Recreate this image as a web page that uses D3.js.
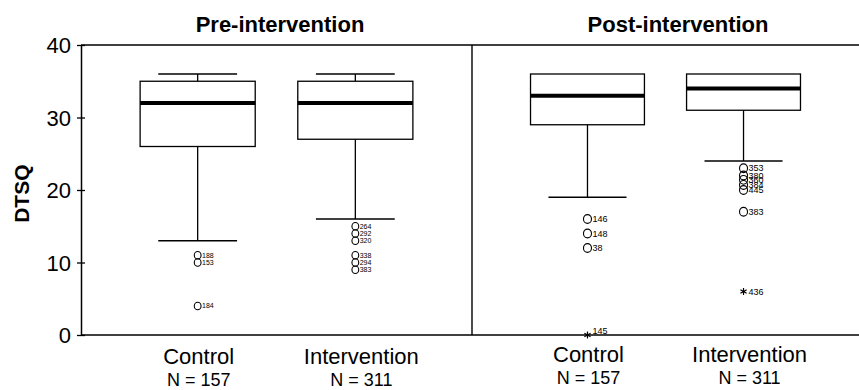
<!DOCTYPE html>
<html>
<head>
  <meta charset="UTF-8">
  <title>DTSQ box plots</title>
  <script src="https://d3js.org/d3.v7.min.js"></script>
  <style>
    body { margin: 0; background: #fff; }
    svg { display: block; font-family: "Liberation Sans", Arial, Helvetica, sans-serif; }
  </style>
</head>
<body>
<svg id="chart" width="859" height="390"></svg>
<script>
  // Chart values
  var panels = ["Pre-intervention", "Post-intervention"];
  var groups = ["Control", "Intervention"];
  var groupN = [157, 311];
  var yTicks = [0, 10, 20, 30, 40];

  // [lower whisker, Q1, median, Q3, upper whisker]
  var preControl = [13, 26, 32, 35, 36];
  var preIntervention = [16, 27, 32, 35, 36];
  var postControl = [19, 29, 33, 36, 36];
  var postIntervention = [24, 31, 34, 36, 36];

  // outliers (circles) as [value, case label]
  var preControlOut = [[11, "188"], [10, "153"], [4, "184"]];
  var preInterventionOut = [[15, "264"], [14, "292"], [13, "320"], [11, "338"], [10, "294"], [9, "383"]];
  var postControlOut = [[16, "146"], [14, "148"], [12, "38"]];
  var postInterventionOut = [[23, "353"], [22, "380"], [21.4, "360"], [20.7, "384"], [20, "445"], [17, "383"]];

  // extremes (stars)
  var preControlExt = [];
  var preInterventionExt = [];
  var postControlExt = [[0, "145"]];
  var postInterventionExt = [[6, "436"]];

  var boxes = [[preControl, preIntervention], [postControl, postIntervention]];
  var outs = [[preControlOut, preInterventionOut], [postControlOut, postInterventionOut]];
  var exts = [[preControlExt, preInterventionExt], [postControlExt, postInterventionExt]];

  // plot area edges
  var plotLeft = 81, plotRight = 859, plotTop = 45, plotBottom = 335;
  var divider = 472;
  var panelEdges = [[plotLeft, divider], [divider, plotRight]];

  var svg = d3.select("#chart");

  var y = d3.scaleLinear().domain([0, 40]).range([plotBottom, plotTop]);

  // y axis
  var yAxis = svg.append("g")
    .attr("transform", "translate(" + plotLeft + ",0)")
    .call(d3.axisLeft(y).tickValues(yTicks).tickSize(4).tickSizeOuter(0).tickPadding(6));
  yAxis.select(".domain").attr("stroke", "#000").attr("stroke-width", 1.5);
  yAxis.selectAll(".tick line").attr("x2", -4).attr("x1", 4).attr("stroke-width", 1.3);
  yAxis.selectAll(".tick text")
    .attr("font-size", 22)
    .attr("font-family", "Liberation Sans, Arial, sans-serif")
    .attr("fill", "#000")
    .attr("dy", "0.36em");

  svg.append("text")
    .attr("transform", "translate(29," + y(19.5) + ") rotate(-90)")
    .attr("text-anchor", "middle")
    .attr("font-size", 21)
    .attr("font-weight", "bold")
    .text("DTSQ");

  // frame
  svg.append("line").attr("x1", plotLeft).attr("x2", plotRight).attr("y1", plotTop).attr("y2", plotTop)
    .attr("stroke", "#000").attr("stroke-width", 1.4);
  svg.append("line").attr("x1", plotLeft).attr("x2", plotRight).attr("y1", plotBottom).attr("y2", plotBottom)
    .attr("stroke", "#000").attr("stroke-width", 1.6);
  svg.append("line").attr("x1", divider).attr("x2", divider).attr("y1", plotTop).attr("y2", plotBottom)
    .attr("stroke", "#000").attr("stroke-width", 1.4);

  var star = d3.symbol().type(d3.symbolAsterisk).size(36);

  panels.forEach(function (title, p) {
    var x0 = panelEdges[p][0], x1 = panelEdges[p][1];
    var x = d3.scalePoint().domain(groups).range([x0, x1]).padding(0.74).align(0.5);
    var step = x.step();
    var boxW = step * 0.73, capW = step * 0.5;
    var labelSize = p === 0 ? 7 : 9;
    var rx = p === 0 ? 3.4 : 4, ry = p === 0 ? 3.8 : 4.4;

    svg.append("text")
      .attr("x", p === 0 ? 280 : 678)
      .attr("y", 32)
      .attr("text-anchor", "middle")
      .attr("font-size", 22)
      .attr("font-weight", "bold")
      .text(title);

    groups.forEach(function (g, i) {
      var s = boxes[p][i];
      var cx = x(g);
      var gg = svg.append("g");

      // whiskers
      gg.append("line").attr("x1", cx).attr("x2", cx).attr("y1", y(s[0])).attr("y2", y(s[1]))
        .attr("stroke", "#000").attr("stroke-width", 1.3);
      gg.append("line").attr("x1", cx).attr("x2", cx).attr("y1", y(s[3])).attr("y2", y(s[4]))
        .attr("stroke", "#000").attr("stroke-width", 1.3);
      gg.append("line").attr("x1", cx - capW / 2).attr("x2", cx + capW / 2).attr("y1", y(s[0])).attr("y2", y(s[0]))
        .attr("stroke", "#000").attr("stroke-width", 1.3);
      if (s[4] > s[3]) {
        gg.append("line").attr("x1", cx - capW / 2).attr("x2", cx + capW / 2).attr("y1", y(s[4])).attr("y2", y(s[4]))
          .attr("stroke", "#000").attr("stroke-width", 1.3);
      }

      // box
      gg.append("rect")
        .attr("x", cx - boxW / 2).attr("width", boxW)
        .attr("y", y(s[3])).attr("height", y(s[1]) - y(s[3]))
        .attr("fill", "#fff").attr("stroke", "#000").attr("stroke-width", 1.3);
      gg.append("line").attr("x1", cx - boxW / 2).attr("x2", cx + boxW / 2).attr("y1", y(s[2])).attr("y2", y(s[2]))
        .attr("stroke", "#000").attr("stroke-width", 4);

      // outliers
      outs[p][i].forEach(function (o) {
        gg.append("ellipse").attr("cx", cx).attr("cy", y(o[0])).attr("rx", rx).attr("ry", ry)
          .attr("fill", "none").attr("stroke", "#000").attr("stroke-width", 1.1);
        gg.append("text").attr("x", cx + rx + 1).attr("y", y(o[0])).attr("dy", "0.35em")
          .attr("font-size", labelSize).text(o[1]);
      });

      // extremes
      exts[p][i].forEach(function (o) {
        gg.append("path").attr("d", star).attr("transform", "translate(" + cx + "," + y(o[0]) + ")")
          .attr("fill", "none").attr("stroke", "#000").attr("stroke-width", 1.2);
        gg.append("text").attr("x", cx + 5).attr("y", y(o[0]) - (o[0] === 0 ? 4 : 0)).attr("dy", "0.35em")
          .attr("font-size", labelSize).text(o[1]);
      });

      // category labels
      var off = i === 0 ? 1 : 6;
      svg.append("text")
        .attr("x", cx + off).attr("y", p === 0 ? 364 : 362)
        .attr("text-anchor", "middle").attr("font-size", 22)
        .text(g);
      svg.append("text")
        .attr("x", cx + off).attr("y", p === 0 ? 386 : 384)
        .attr("text-anchor", "middle").attr("font-size", 18)
        .text("N = " + groupN[i]);
    });
  });
</script>
</body>
</html>
